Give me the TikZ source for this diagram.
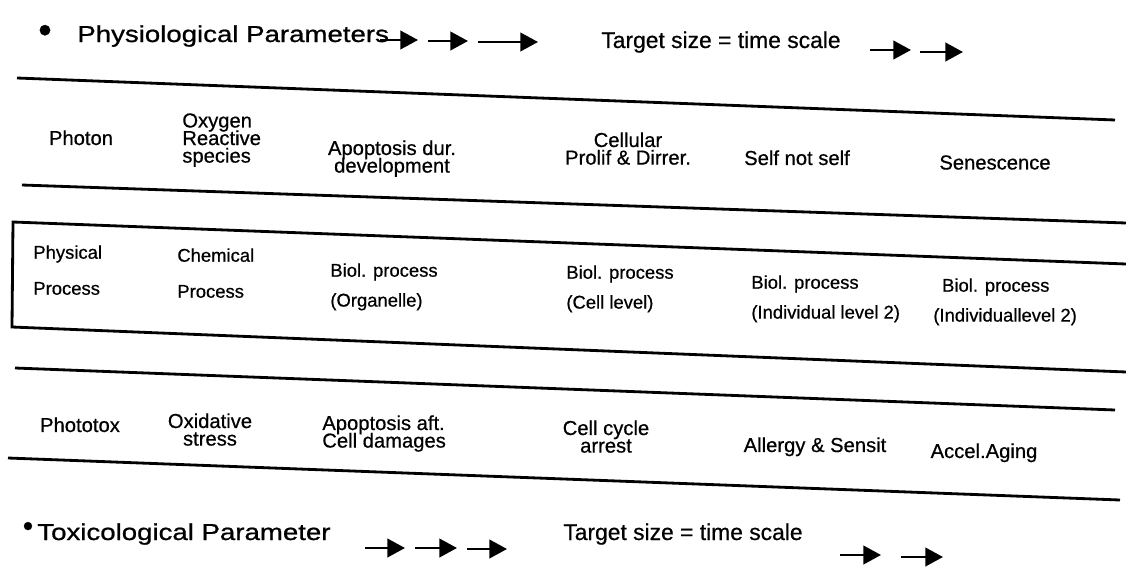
\documentclass[tikz,border=0pt]{standalone}
\usepackage{fontspec}
\setmainfont[FakeBold=0.6]{Liberation Sans}
\newfontfamily\cellfont[FakeBold=0.6]{Liberation Sans}
\newfontfamily\headfont[FakeStretch=1.2, FakeBold=0.9]{Liberation Sans}
\usepackage{tikz}
\usetikzlibrary{arrows.meta}
\usetikzlibrary{positioning}
\usetikzlibrary{calc}

\newcommand{\tightlines}{\lineskiplimit=-20pt\relax}

\tikzset{
  rule/.style={line width=1.6pt, line join=miter},
  tarrow/.style={line width=1.4pt, -{Triangle[length=10pt,width=10.5pt]}},
  head/.style={font=\headfont\fontsize{13.1}{15}\selectfont, inner sep=0pt, anchor=base west},
  tgt/.style={font=\cellfont\fontsize{13}{15}\selectfont, inner sep=0pt, anchor=base west},
  cell/.style={font={\cellfont\fontsize{11.5}{10}\selectfont\tightlines}, inner sep=0pt, anchor=north},
  proc/.style={font=\cellfont\fontsize{10.5}{17}\selectfont, inner sep=0pt, align=left, anchor=north west}
}

\begin{document}
\begin{tikzpicture}[x=0.02cm, y=-0.02cm]
\useasboundingbox (0,0) rectangle (1126,578);

% headings
\node[font=\cellfont\fontsize{22}{24}\selectfont, inner sep=0pt] (bul1) at (45,34) {\textbullet};
\node[head] (physio) at (77,42) {Physiological Parameters};
\node[tgt] (tgt1) at (601,48) {Target size = time scale};

\node[font=\cellfont\fontsize{17}{19}\selectfont, inner sep=0pt] (bul2) at (28,529) {\textbullet};
\node[head] (toxico) at (37,540) {Toxicological Parameter};
\node[tgt] (tgt2) at (563,540) {Target size = time scale};

\foreach \n/\a/\b/\y in {pa/380/418/40, pb/428/468/41, pc/478/538/42,
                         pd/870/911/50, pe/920/963/52,
                         ta/365/405/548, tb/415/457/548, tc/467/507/549,
                         td/840/881/555, te/901/943/557}
{
\coordinate (\n s) at (\a,\y);
\coordinate (\n e) at (\b,\y);
\draw[tarrow] (\n s) -- (\n e);
}

% table rules
\draw[rule] (17,78) -- (1115,120);
\draw[rule] (22,185) -- (1126,223);
\draw[rule] (1126,264) -- (13,222) -- (12,327) -- (1126,372);
\draw[rule] (15,368) -- (1115,410);
\draw[rule] (8,458) -- (1120,500);

% first row
\node[cell] (photon) at (81,130) {Photon};
\node[cell, anchor=north west, align=left] (oxygen) at (182,113) {Oxygen\\Reactive\\species};
\node[cell, align=center] (apodev) at (392,140) {Apoptosis dur.\\development};
\node[cell, align=center] (cellprol) at (628,132) {Cellular\\Prolif \& Dirrer.};
\node[cell] (selfnot) at (797,150) {Self not self};
\node[cell] (senes) at (995,155) {Senescence};

% boxed row
\node[proc] (physproc) at (33,245) {Physical\\[3.5pt]Process};
\node[proc] (chemproc) at (177,248) {Chemical\\[3.5pt]Process};
\node[proc] (orgproc) at (330,263) {Biol. process\\(Organelle)};
\node[proc] (cellproc) at (566,265) {Biol. process\\(Cell level)};
\node[proc] (indproc) at (751,275) {Biol. process\\(Individual level 2)};
\node[proc] (indproc2) at (933,278) {\hspace{5pt}Biol. process\\(Individuallevel 2)};

% third row
\node[cell] (phototox) at (80,417) {Phototox};
\node[cell, align=center] (oxid) at (210,413) {Oxidative\\stress};
\node[cell, anchor=north west, align=left] (apoaft) at (322,415) {Apoptosis aft.\\Cell damages};
\node[cell, align=center] (cellcyc) at (606,420) {Cell cycle\\arrest};
\node[cell] (allergy) at (815,437) {Allergy \& Sensit};
\node[cell] (aging) at (984,443) {Accel.Aging};

\end{tikzpicture}
\end{document}
